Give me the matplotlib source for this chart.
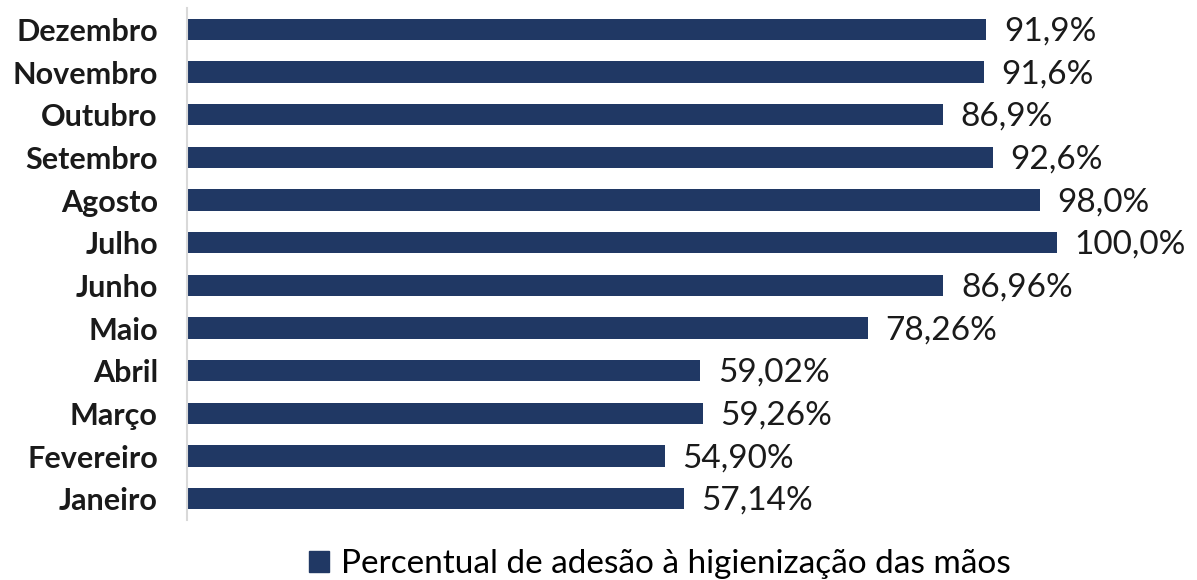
import matplotlib.pyplot as plt
from matplotlib.patches import Patch

plt.rcParams['font.family'] = ['Lato', 'DejaVu Sans']

meses = ['Janeiro', 'Fevereiro', 'Março', 'Abril', 'Maio', 'Junho',
         'Julho', 'Agosto', 'Setembro', 'Outubro', 'Novembro', 'Dezembro']
valores = [57.14, 54.90, 59.26, 59.02, 78.26, 86.96,
           100.0, 98.0, 92.6, 86.9, 91.6, 91.9]
rotulos = ['57,14%', '54,90%', '59,26%', '59,02%', '78,26%', '86,96%',
           '100,0%', '98,0%', '92,6%', '86,9%', '91,6%', '91,9%']

cor = '#203864'

fig = plt.figure(figsize=(11.97, 5.80), dpi=100)
ax = fig.add_axes([187 / 1197, 60 / 580, 1 - 187 / 1197, 512 / 580])

y = list(range(len(meses)))
ax.barh(y, valores, height=0.5, color=cor)

for i in range(len(meses)):
    ax.text(valores[i] + 2.0, y[i] - 0.05, rotulos[i], va='center', ha='left',
            fontsize=24, color='#1a1a1a')

ax.set_xlim(0, 116.1)
ax.set_ylim(-0.5, len(meses) - 0.5)
ax.set_yticks(y)
ax.set_yticklabels(meses, fontsize=22, fontweight='bold', color='#1a1a1a')
ax.tick_params(axis='y', length=0, pad=21)
ax.set_xticks([])

for s in ['top', 'right', 'bottom']:
    ax.spines[s].set_visible(False)
ax.spines['left'].set_color('#d9d9d9')
ax.spines['left'].set_linewidth(1.5)

fig.legend(handles=[Patch(color=cor, label='Percentual de adesão à higienização das mãos')],
           loc='center', bbox_to_anchor=(660 / 1197, 1 - 564 / 580), frameon=False,
           fontsize=24, handlelength=0.6, handleheight=0.6, handletextpad=0.35,
           borderpad=0)

fig.savefig('out.png', dpi=100)
